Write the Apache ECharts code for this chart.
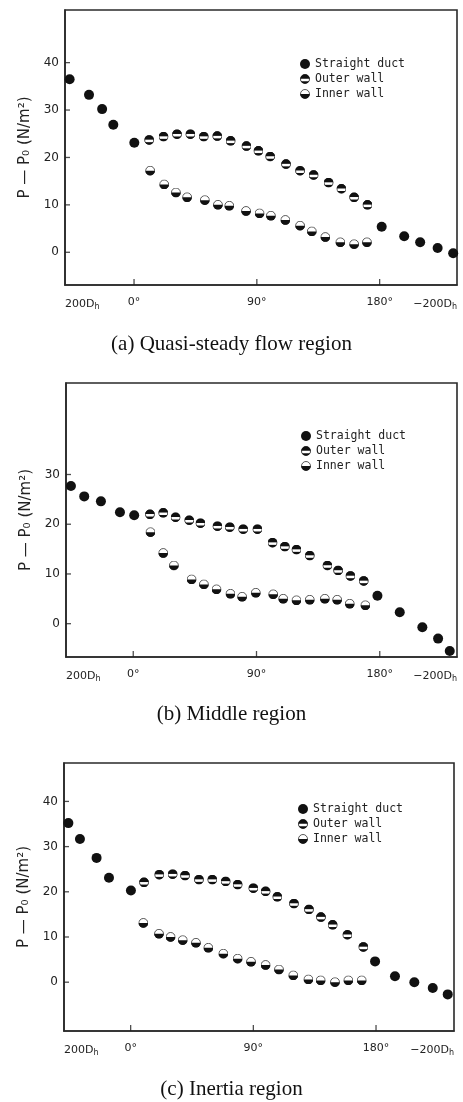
<!DOCTYPE html>
<html>
<head>
<meta charset="utf-8">
<script src="https://cdn.jsdelivr.net/npm/echarts@6/dist/echarts.min.js"></script>
<style>
  html, body { margin: 0; padding: 0; background: #fff; }
  #main { width: 463px; height: 1102px; }
</style>
</head>
<body>
<div id="main"></div>
<script>
// x position in "degree" units: left part = straight duct upstream, right part = downstream
const seriesNames = ['Straight duct', 'Outer wall', 'Inner wall'];
const xTickLabels = ['200D{s|h}', '0°', '90°', '180°', '−200D{s|h}'];
const xTickValues = [0, 90, 180];
const yTicksA = [0, 10, 20, 30, 40];
const yTicksB = [0, 10, 20, 30];
const yTicksC = [0, 10, 20, 30, 40];
const captions = ['(a) Quasi-steady flow region', '(b) Middle region', '(c) Inertia region'];

// (a) quasi-steady flow region
const aStraight = [[-47.2, 36.5], [-33, 33.2], [-23.4, 30.2], [-15.2, 26.9], [0.2, 23.1],
  [181.5, 5.4], [198, 3.4], [209.7, 2.1], [222.5, 0.9], [233.9, -0.2]];
const aOuter = [[11.1, 23.7], [21.6, 24.4], [31.5, 24.9], [41.3, 24.9], [51.1, 24.4], [61, 24.5],
  [70.8, 23.5], [82.4, 22.4], [91.2, 21.4], [99.8, 20.2], [111.4, 18.6], [121.7, 17.2],
  [131.6, 16.3], [142.6, 14.7], [152, 13.4], [161.3, 11.6], [171.1, 10.0]];
const aInner = [[11.8, 17.2], [22.1, 14.3], [30.7, 12.6], [38.9, 11.6], [51.9, 11.0], [61.5, 10.0],
  [69.8, 9.8], [82.1, 8.7], [92, 8.2], [100.3, 7.7], [110.9, 6.8], [121.7, 5.6],
  [130.3, 4.4], [140.2, 3.2], [151.2, 2.1], [161.3, 1.7], [170.7, 2.1]];

// (b) middle region
const bStraight = [[-45.5, 27.7], [-35.8, 25.6], [-23.6, 24.6], [-9.7, 22.4], [0.7, 21.8],
  [178.3, 5.6], [194.6, 2.3], [211.1, -0.7], [222.6, -3.0], [231.1, -5.5]];
const bOuter = [[12.2, 22.0], [21.9, 22.3], [30.9, 21.4], [40.9, 20.8], [49.1, 20.2], [61.5, 19.6],
  [70.5, 19.4], [80.3, 19.0], [90.7, 19.0], [101.7, 16.3], [110.7, 15.5], [119.2, 14.9],
  [128.9, 13.7], [141.8, 11.7], [149.6, 10.7], [158.6, 9.6], [168.3, 8.6]];
const bInner = [[12.6, 18.4], [21.9, 14.2], [29.7, 11.7], [42.6, 8.9], [51.6, 7.9], [60.8, 6.9],
  [71, 6.0], [79.5, 5.4], [89.5, 6.2], [102.2, 5.9], [109.5, 5.0], [119.2, 4.7],
  [128.9, 4.8], [139.9, 5.0], [148.9, 4.8], [158.1, 4.0], [169.5, 3.7]];

// (c) inertia region
const cStraight = [[-45.7, 35.2], [-37.2, 31.7], [-25, 27.5], [-15.9, 23.1], [0.2, 20.3],
  [179.3, 4.6], [193.9, 1.3], [208.1, 0], [221.6, -1.3], [232.6, -2.7]];
const cOuter = [[9.8, 22.1], [21, 23.8], [30.8, 23.9], [39.9, 23.6], [50.1, 22.7], [59.9, 22.7],
  [69.7, 22.3], [78.5, 21.6], [90, 20.8], [99, 20.1], [107.6, 18.9], [119.8, 17.4],
  [130.8, 16.1], [139.6, 14.4], [148.2, 12.7], [159, 10.5], [170.7, 7.8]];
const cInner = [[9.3, 13.1], [20.8, 10.7], [29.3, 10.0], [38.2, 9.3], [47.9, 8.7], [57, 7.6],
  [68, 6.3], [78.5, 5.2], [88.3, 4.5], [99, 3.8], [108.8, 2.8], [119.3, 1.5],
  [130.4, 0.6], [139.4, 0.4], [149.9, 0], [159.7, 0.4], [169.5, 0.4]];

// marker pictures
function svgSymbol(svg) {
  return 'image://data:image/svg+xml;charset=utf-8,' + encodeURIComponent(svg);
}
const outerSym = svgSymbol(
  "<svg xmlns='http://www.w3.org/2000/svg' width='40' height='40' viewBox='0 0 20 20'>" +
  "<defs><clipPath id='c'><circle cx='10' cy='10' r='9.5'/></clipPath></defs>" +
  "<circle cx='10' cy='10' r='9.5' fill='#111'/>" +
  "<rect x='0' y='9.5' width='20' height='5' fill='#fff' clip-path='url(#c)'/>" +
  "<circle cx='10' cy='10' r='9' fill='none' stroke='#111' stroke-width='1.4'/></svg>");
const innerSym = svgSymbol(
  "<svg xmlns='http://www.w3.org/2000/svg' width='40' height='40' viewBox='0 0 20 20'>" +
  "<circle cx='10' cy='10' r='9' fill='#fff' stroke='#111' stroke-width='1.4'/>" +
  "<path d='M0.5,10 A9.5,9.5 0 0 0 19.5,10 Z' fill='#111'/></svg>");

const panels = [
  { grid: { left: 65, top: 10, width: 392, height: 275 }, x: [-50.6, 236.7], y: [-6.9, 51.1], yt: yTicksA,
    data: [aStraight, aOuter, aInner], legendTop: 53, legendLeft: 295, capTop: 334 },
  { grid: { left: 66, top: 383, width: 391, height: 274 }, x: [-49.1, 236.4], y: [-6.7, 48.4], yt: yTicksB,
    data: [bStraight, bOuter, bInner], legendTop: 425, legendLeft: 296, capTop: 704 },
  { grid: { left: 64, top: 763, width: 390, height: 268 }, x: [-48.9, 237.2], y: [-10.8, 48.5], yt: yTicksC,
    data: [cStraight, cOuter, cInner], legendTop: 798, legendLeft: 293, capTop: 1079 }
];

const symbols = ['circle', outerSym, innerSym];
const fontSans = 'DejaVu Sans';
const frameLine = { color: '#2a2a2a', width: 1.6 };

const option = {
  animation: false,
  backgroundColor: '#fff',
  grid: [], xAxis: [], yAxis: [], series: [], legend: [], graphic: []
};

panels.forEach((p, i) => {
  option.grid.push(Object.assign({ show: true, borderColor: '#2a2a2a', borderWidth: 1.6 }, p.grid));
  const xVals = [p.x[0]].concat(xTickValues, [p.x[1]]);
  option.xAxis.push({
    type: 'value', gridIndex: i, min: p.x[0], max: p.x[1],
    axisLine: { show: true, onZero: false, lineStyle: frameLine }, splitLine: { show: false },
    axisTick: { show: false },
    axisLabel: {
      customValues: xVals, margin: 12, color: '#222', fontFamily: fontSans, fontSize: 11,
      alignMinLabel: 'left', alignMaxLabel: 'right',
      formatter: v => xTickLabels[xVals.indexOf(v)],
      rich: { s: { fontSize: 8, verticalAlign: 'bottom', padding: [6, 0, 0, 0], fontFamily: fontSans, color: '#222' } }
    }
  });
  option.yAxis.push({
    type: 'value', gridIndex: i, min: p.y[0], max: p.y[1],
    name: 'P — P₀ (N/m²)', nameLocation: 'middle', nameGap: 31, nameRotate: 90,
    nameTextStyle: { fontFamily: fontSans, fontSize: 15, color: '#222' },
    axisLine: { show: true, onZero: false, lineStyle: frameLine }, splitLine: { show: false },
    axisTick: { show: false },
    axisLabel: { customValues: p.yt, margin: 6, color: '#222', fontFamily: fontSans, fontSize: 12 }
  });
  p.data.forEach((d, k) => {
    option.series.push({
      type: 'scatter', name: seriesNames[k], xAxisIndex: i, yAxisIndex: i,
      data: d, symbol: symbols[k], symbolSize: 10,
      itemStyle: { color: '#111', opacity: 1 }
    });
  });
  // small inward tick marks on the frame, placed through the axes
  option.series.push({
    type: 'scatter', name: 'xticks' + i, xAxisIndex: i, yAxisIndex: i, silent: true,
    data: xTickValues.map(v => [v, p.y[0]]), symbol: 'rect', symbolSize: [1.3, 6],
    symbolOffset: [0, -3], itemStyle: { color: '#222' }
  });
  option.series.push({
    type: 'scatter', name: 'yticks' + i, xAxisIndex: i, yAxisIndex: i, silent: true,
    data: p.yt.map(v => [p.x[0], v]), symbol: 'rect', symbolSize: [5, 1.3],
    symbolOffset: [2.5, 0], itemStyle: { color: '#222' }
  });
  option.legend.push({
    data: seriesNames, orient: 'vertical', left: p.legendLeft, top: p.legendTop,
    itemWidth: 10, itemHeight: 10, itemGap: 3, selectedMode: false,
    textStyle: { fontFamily: 'DejaVu Sans Mono', fontSize: 11.5, color: '#222' }
  });
  option.graphic.push({
    type: 'text', left: 'center', top: p.capTop,
    style: { text: captions[i], font: '21px "Liberation Serif"', fill: '#111' }
  });
});

const chart = echarts.init(document.getElementById('main'));
chart.setOption(option);
</script>
</body>
</html>
